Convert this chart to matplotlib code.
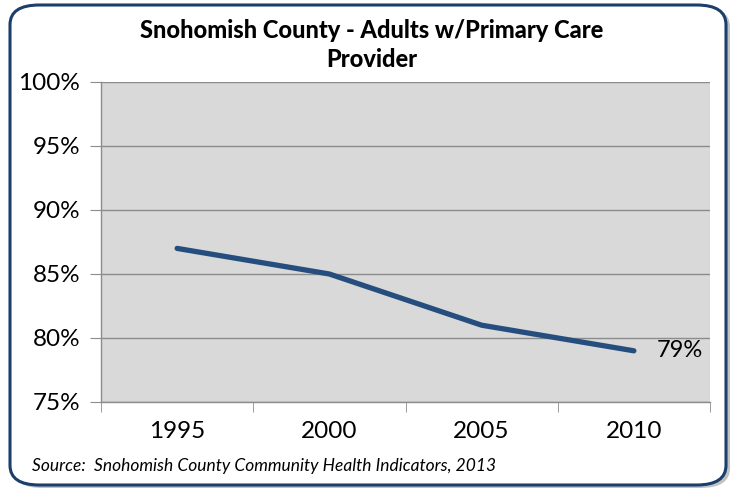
import matplotlib
matplotlib.use("Agg")
import matplotlib.pyplot as plt
from matplotlib.patches import FancyBboxPatch
from matplotlib.ticker import FixedLocator

years = ["1995", "2000", "2005", "2010"]
values = [0.87, 0.85, 0.81, 0.79]
yticks = [0.75, 0.80, 0.85, 0.90, 0.95, 1.00]
ytick_labels = ["75%", "80%", "85%", "90%", "95%", "100%"]
title = "Snohomish County - Adults w/Primary Care\nProvider"
source = "Source:  Snohomish County Community Health Indicators, 2013"
last_label = "79%"

plt.rcParams['font.family'] = ['Lato', 'DejaVu Sans']

W, H = 734, 491
fig = plt.figure(figsize=(W/100, H/100), dpi=100)
fig.patch.set_facecolor('white')

# shadow + rounded border
shadow = FancyBboxPatch((13/W, 3/H), 717/W, 481/H,
                        boxstyle="round,pad=0,rounding_size=0.04",
                        transform=fig.transFigure, facecolor='#9a9a9a',
                        edgecolor='none', alpha=0.6, zorder=0)
fig.patches.append(shadow)
border = FancyBboxPatch((10/W, 6/H), 716/W, 480/H,
                        boxstyle="round,pad=0,rounding_size=0.04",
                        transform=fig.transFigure, facecolor='white',
                        edgecolor='#1B3F6B', linewidth=2.2, zorder=1)
fig.patches.append(border)

ax = fig.add_axes([101/W, (H-402)/H, (710-101)/W, (402-82)/H])
ax.set_zorder(2)
ax.set_facecolor('#D9D9D9')

x = list(range(len(years)))
ax.plot(x, values, color='#254E7E', linewidth=3.8, solid_capstyle='round', zorder=3)
ax.text(x[-1] + 0.15, values[-1], last_label, fontsize=17, va='center', ha='left', color='black')

ax.set_xlim(-0.5, len(years) - 0.5)
ax.set_ylim(0.75, 1.00)
ax.set_yticks(yticks)
ax.set_yticklabels(ytick_labels)
ax.yaxis.grid(True, color='#8c8c8c', linewidth=1.0)
ax.set_axisbelow(True)

ax.set_xticks(x)
ax.set_xticklabels(years)
ax.xaxis.set_minor_locator(FixedLocator([i - 0.5 for i in range(len(years) + 1)]))
ax.tick_params(axis='x', which='major', length=0, labelsize=17.5, pad=14)
ax.tick_params(axis='x', which='minor', length=7, color='#8c8c8c', direction='out')
ax.tick_params(axis='y', length=8, color='#8c8c8c', labelsize=17.5, pad=7, direction='out')

for s in ['top', 'right']:
    ax.spines[s].set_visible(False)
for s in ['left', 'bottom']:
    ax.spines[s].set_color('#8c8c8c')
    ax.spines[s].set_linewidth(1.0)

fig.text(372/W, (H-45)/H, title, ha='center', va='center', fontsize=17,
         fontweight='black', linespacing=1.3, zorder=5)
fig.text(32/W, (H-466)/H, source, ha='left', va='center', fontsize=12.5,
         style='italic', zorder=5)

fig.savefig("out.png", dpi=100, facecolor='white')
